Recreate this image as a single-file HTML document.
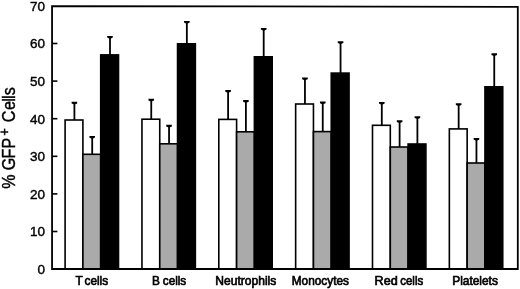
<!DOCTYPE html>
<html><head><meta charset="utf-8"><style>
html,body{margin:0;padding:0;background:#fff;}
body{width:520px;height:289px;overflow:hidden;}
svg{display:block;}
text{font-family:"Liberation Sans",sans-serif;fill:#000;}
.tk{font-size:13.5px;}
.xl{font-size:12.2px;stroke-width:0.65px;}
.ti{font-size:17.5px;}
.tp{font-size:14px;}
text{stroke:#000;stroke-width:0.4px;}
svg{will-change:transform;}
</style></head><body>
<svg width="520" height="289" viewBox="0 0 520 289">
<rect x="65.10" y="120.00" width="17.80" height="149.00" fill="#fff" stroke="#000" stroke-width="1.6"/>
<rect x="82.90" y="154.30" width="17.80" height="114.70" fill="#aaaaaa" stroke="#000" stroke-width="1.6"/>
<rect x="100.70" y="54.90" width="17.80" height="214.10" fill="#000" stroke="#000" stroke-width="1.6"/>
<line x1="74.40" y1="120.00" x2="74.40" y2="102.80" stroke="#000" stroke-width="1.8"/>
<path d="M71.60 101.80H77.20V103.50L75.30 104.30H73.50L71.60 103.50Z"/>
<line x1="92.20" y1="154.30" x2="92.20" y2="136.90" stroke="#000" stroke-width="1.8"/>
<path d="M89.40 135.90H95.00V137.60L93.10 138.40H91.30L89.40 137.60Z"/>
<line x1="110.00" y1="54.90" x2="110.00" y2="36.90" stroke="#000" stroke-width="1.8"/>
<path d="M107.20 35.90H112.80V37.60L110.90 38.40H109.10L107.20 37.60Z"/>
<rect x="141.95" y="119.20" width="17.80" height="149.80" fill="#fff" stroke="#000" stroke-width="1.6"/>
<rect x="159.75" y="143.80" width="17.80" height="125.20" fill="#aaaaaa" stroke="#000" stroke-width="1.6"/>
<rect x="177.55" y="43.80" width="17.80" height="225.20" fill="#000" stroke="#000" stroke-width="1.6"/>
<line x1="151.25" y1="119.20" x2="151.25" y2="99.80" stroke="#000" stroke-width="1.8"/>
<path d="M148.45 98.80H154.05V100.50L152.15 101.30H150.35L148.45 100.50Z"/>
<line x1="169.05" y1="143.80" x2="169.05" y2="125.80" stroke="#000" stroke-width="1.8"/>
<path d="M166.25 124.80H171.85V126.50L169.95 127.30H168.15L166.25 126.50Z"/>
<line x1="186.85" y1="43.80" x2="186.85" y2="21.90" stroke="#000" stroke-width="1.8"/>
<path d="M184.05 20.90H189.65V22.60L187.75 23.40H185.95L184.05 22.60Z"/>
<rect x="218.80" y="119.40" width="17.80" height="149.60" fill="#fff" stroke="#000" stroke-width="1.6"/>
<rect x="236.60" y="131.80" width="17.80" height="137.20" fill="#aaaaaa" stroke="#000" stroke-width="1.6"/>
<rect x="254.40" y="56.80" width="17.80" height="212.20" fill="#000" stroke="#000" stroke-width="1.6"/>
<line x1="228.10" y1="119.40" x2="228.10" y2="91.00" stroke="#000" stroke-width="1.8"/>
<path d="M225.30 90.00H230.90V91.70L229.00 92.50H227.20L225.30 91.70Z"/>
<line x1="245.90" y1="131.80" x2="245.90" y2="101.00" stroke="#000" stroke-width="1.8"/>
<path d="M243.10 100.00H248.70V101.70L246.80 102.50H245.00L243.10 101.70Z"/>
<line x1="263.70" y1="56.80" x2="263.70" y2="28.90" stroke="#000" stroke-width="1.8"/>
<path d="M260.90 27.90H266.50V29.60L264.60 30.40H262.80L260.90 29.60Z"/>
<rect x="295.65" y="104.00" width="17.80" height="165.00" fill="#fff" stroke="#000" stroke-width="1.6"/>
<rect x="313.45" y="131.60" width="17.80" height="137.40" fill="#aaaaaa" stroke="#000" stroke-width="1.6"/>
<rect x="331.25" y="73.10" width="17.80" height="195.90" fill="#000" stroke="#000" stroke-width="1.6"/>
<line x1="304.95" y1="104.00" x2="304.95" y2="78.60" stroke="#000" stroke-width="1.8"/>
<path d="M302.15 77.60H307.75V79.30L305.85 80.10H304.05L302.15 79.30Z"/>
<line x1="322.75" y1="131.60" x2="322.75" y2="102.50" stroke="#000" stroke-width="1.8"/>
<path d="M319.95 101.50H325.55V103.20L323.65 104.00H321.85L319.95 103.20Z"/>
<line x1="340.55" y1="73.10" x2="340.55" y2="42.30" stroke="#000" stroke-width="1.8"/>
<path d="M337.75 41.30H343.35V43.00L341.45 43.80H339.65L337.75 43.00Z"/>
<rect x="372.50" y="125.30" width="17.80" height="143.70" fill="#fff" stroke="#000" stroke-width="1.6"/>
<rect x="390.30" y="147.00" width="17.80" height="122.00" fill="#aaaaaa" stroke="#000" stroke-width="1.6"/>
<rect x="408.10" y="144.00" width="17.80" height="125.00" fill="#000" stroke="#000" stroke-width="1.6"/>
<line x1="381.80" y1="125.30" x2="381.80" y2="102.90" stroke="#000" stroke-width="1.8"/>
<path d="M379.00 101.90H384.60V103.60L382.70 104.40H380.90L379.00 103.60Z"/>
<line x1="399.60" y1="147.00" x2="399.60" y2="121.30" stroke="#000" stroke-width="1.8"/>
<path d="M396.80 120.30H402.40V122.00L400.50 122.80H398.70L396.80 122.00Z"/>
<line x1="417.40" y1="144.00" x2="417.40" y2="117.20" stroke="#000" stroke-width="1.8"/>
<path d="M414.60 116.20H420.20V117.90L418.30 118.70H416.50L414.60 117.90Z"/>
<rect x="449.35" y="128.90" width="17.80" height="140.10" fill="#fff" stroke="#000" stroke-width="1.6"/>
<rect x="467.15" y="163.00" width="17.80" height="106.00" fill="#aaaaaa" stroke="#000" stroke-width="1.6"/>
<rect x="484.95" y="86.80" width="17.80" height="182.20" fill="#000" stroke="#000" stroke-width="1.6"/>
<line x1="458.65" y1="128.90" x2="458.65" y2="104.20" stroke="#000" stroke-width="1.8"/>
<path d="M455.85 103.20H461.45V104.90L459.55 105.70H457.75L455.85 104.90Z"/>
<line x1="476.45" y1="163.00" x2="476.45" y2="138.90" stroke="#000" stroke-width="1.8"/>
<path d="M473.65 137.90H479.25V139.60L477.35 140.40H475.55L473.65 139.60Z"/>
<line x1="494.25" y1="86.80" x2="494.25" y2="54.20" stroke="#000" stroke-width="1.8"/>
<path d="M491.45 53.20H497.05V54.90L495.15 55.70H493.35L491.45 54.90Z"/>
<path d="M52.05 6.1 L517.8 6.8 L517.8 269.0 L52.05 269.0 Z" fill="none" stroke="#000" stroke-width="1.8"/>
<line x1="52" y1="231.50" x2="57.4" y2="231.50" stroke="#000" stroke-width="1.6"/>
<line x1="52" y1="193.90" x2="57.4" y2="193.90" stroke="#000" stroke-width="1.6"/>
<line x1="52" y1="156.30" x2="57.4" y2="156.30" stroke="#000" stroke-width="1.6"/>
<line x1="52" y1="118.70" x2="57.4" y2="118.70" stroke="#000" stroke-width="1.6"/>
<line x1="52" y1="81.10" x2="57.4" y2="81.10" stroke="#000" stroke-width="1.6"/>
<line x1="52" y1="43.50" x2="57.4" y2="43.50" stroke="#000" stroke-width="1.6"/>
<text x="45.0" y="274.00" text-anchor="end" class="tk">0</text>
<text x="45.0" y="236.40" text-anchor="end" class="tk">10</text>
<text x="45.0" y="198.80" text-anchor="end" class="tk">20</text>
<text x="45.0" y="161.20" text-anchor="end" class="tk">30</text>
<text x="45.0" y="123.60" text-anchor="end" class="tk">40</text>
<text x="45.0" y="86.00" text-anchor="end" class="tk">50</text>
<text x="45.0" y="48.40" text-anchor="end" class="tk">60</text>
<text x="45.0" y="10.80" text-anchor="end" class="tk">70</text>
<text transform="translate(75.50 284.6) scale(0.9733 1)" class="xl">T</text>
<text transform="translate(84.46 284.6) scale(0.9708 1)" class="xl">cells</text>
<text transform="translate(152.00 284.6) scale(0.9691 1)" class="xl">B</text>
<text transform="translate(162.76 284.6) scale(0.9625 1)" class="xl">cells</text>
<text transform="translate(215.29 284.6) scale(0.9888 1)" class="xl">Neutrophils</text>
<text transform="translate(291.70 284.6) scale(0.9717 1)" class="xl">Monocytes</text>
<text transform="translate(374.56 284.6) scale(1.0337 1)" class="xl">Red</text>
<text transform="translate(400.26 284.6) scale(0.9417 1)" class="xl">cells</text>
<text transform="translate(452.19 284.6) scale(0.9761 1)" class="xl">Platelets</text>
<g transform="translate(15.3 200) rotate(-90) scale(0.92 1)"><text x="20.11 39.13 50.33 61.85 90.76 102.61 108.64 111.74 118.37" y="0" text-anchor="middle" class="ti">%GFPCells</text><text x="73.91" y="-6.2" text-anchor="middle" class="tp">+</text></g>
</svg>
</body></html>
